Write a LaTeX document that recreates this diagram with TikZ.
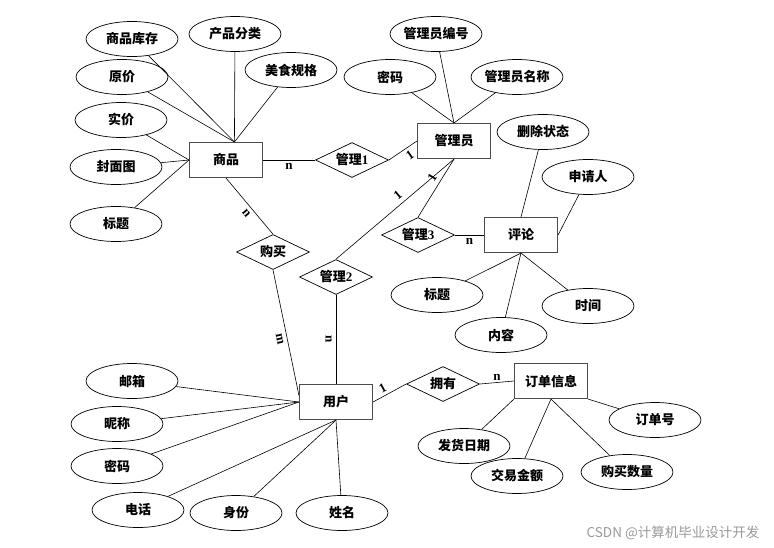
\documentclass[tikz,border=0pt]{standalone}
\usepackage{fontspec}
\setmainfont{Noto Sans CJK SC}
\newfontfamily\cardfont{Liberation Serif}
\usetikzlibrary{shapes.geometric}

\tikzset{
    entity/.style={rectangle, draw=black!70, line width=1.1pt, minimum width=73pt, minimum height=35pt,
        font=\fontsize{13}{15}\selectfont\bfseries},
    attr/.style={ellipse, draw, line width=0.7pt, inner sep=0pt, minimum width=92pt, minimum height=35pt,
        font=\fontsize{13}{15}\selectfont\bfseries},
    rel/.style={diamond, draw, line width=0.7pt, aspect=2, inner sep=1pt, minimum width=73pt, minimum height=35pt,
        font=\fontsize{13}{15}\selectfont\bfseries},
    card/.style={font=\fontsize{13}{15}\selectfont\cardfont\bfseries, inner sep=1pt},
    link/.style={line width=0.6pt}
}

\begin{document}
\begin{tikzpicture}[x=1pt, y=-1pt]
            \useasboundingbox (0,0) rectangle (774,547);

            % entities
            \node[entity] (goods) at (226,160) {商品};
            \node[entity] (admin) at (454,141) {管理员};
            \node[entity] (comment) at (521,235) {评论};
            \node[entity] (user) at (336,402) {用户};
            \node[entity] (order) at (551,381) {订单信息};

            % relations
            \node[rel] (m1) at (352,160) {管理{\cardfont 1}};
            \node[rel] (buy) at (273,252) {购买};
            \node[rel] (m2) at (336,277) {管理{\cardfont 2}};
            \node[rel] (m3) at (418,235) {管理{\cardfont 3}};
            \node[rel] (own) at (443,384) {拥有};

            % attributes
            \node[attr] (stock) at (132,39) {商品库存};
            \node[attr] (category) at (235,34) {产品分类};
            \node[attr] (spec) at (291,70) {美食规格};
            \node[attr] (oprice) at (122,77) {原价};
            \node[attr] (rprice) at (121,120) {实价};
            \node[attr] (cover) at (116,167) {封面图};
            \node[attr] (gtitle) at (116,224) {标题};

            \node[attr] (aid) at (436,34) {管理员编号};
            \node[attr] (apwd) at (390,77) {密码};
            \node[attr] (aname) at (517,77) {管理员名称};

            \node[attr] (cdel) at (543,132) {删除状态};
            \node[attr] (capp) at (588,177) {申请人};
            \node[attr] (ctitle) at (437,295) {标题};
            \node[attr] (ccont) at (501,335) {内容};
            \node[attr] (ctime) at (588,306) {时间};

            \node[attr] (email) at (132,381) {邮箱};
            \node[attr] (nick) at (117,424) {昵称};
            \node[attr] (upwd) at (117,466) {密码};
            \node[attr] (phone) at (138,510) {电话};
            \node[attr] (idcard) at (236,513) {身份};
            \node[attr] (uname) at (342,513) {姓名};

            \node[attr] (ono) at (655,420) {订单号};
            \node[attr] (ship) at (464,446) {发货日期};
            \node[attr] (amount) at (517,476) {交易金额};
            \node[attr] (qty) at (627,472) {购买数量};

            % attribute links
            \foreach \a in {stock, category, spec, oprice} \draw[link] (\a) -- (goods.65);
            \foreach \a in {rprice, cover, gtitle} \draw[link] (\a) -- (goods.west);
            \foreach \a in {aid, apwd, aname} \draw[link] (\a) -- (admin.north);
            \draw[link] (cdel) -- (comment.north);
            \draw[link] (capp) -- (comment.east);
            \foreach \a in {ctitle, ccont, ctime} \draw[link] (\a) -- (comment.south);
            \foreach \a in {email, nick, upwd} \draw[link] (\a) -- (user.west);
            \foreach \a in {phone, idcard, uname} \draw[link] (\a) -- (user.south);
            \draw[link] (ono) -- (order.south east);
            \draw[link] (ship) -- (order.south west);
            \foreach \a in {amount, qty} \draw[link] (\a) -- (order.south);

            % relation links
            \draw[link] (goods.east) -- node[card, below=2pt] {n} (m1.west);
            \draw[link] (m1.east) -- node[card, pos=.6, sloped, below=2pt] {1} (admin.west);
            \draw[link] (goods.south) -- node[card, pos=.55, sloped, below=3pt] {n} (buy.north);
            \draw[link] (buy.south) -- node[card, pos=.54, sloped, below=3pt] {m} (user.170);
            \draw[link] (admin.south) -- node[card, pos=.43, sloped, above=3pt] {1} (m2.north);
            \draw[link] (admin.south) -- node[card, pos=.4, sloped, above=3pt] {1} (m3.north);
            \draw[link] (m2.south) -- node[card, sloped, below=3pt] {n} (user.north);
            \draw[link] (m3.east) -- node[card, below=2pt] {n} (comment.west);
            \draw[link] (user.east) -- node[card, pos=.4, sloped, above=2pt] {1} (own.west);
            \draw[link] (own.east) -- node[card, above=1pt] {n} (order.west);

            \node[text=black!40, font=\fontsize{13.5}{15}\selectfont] (mark) at (673,533) {CSDN @计算机毕业设计开发};
        \end{tikzpicture}
\end{document}
